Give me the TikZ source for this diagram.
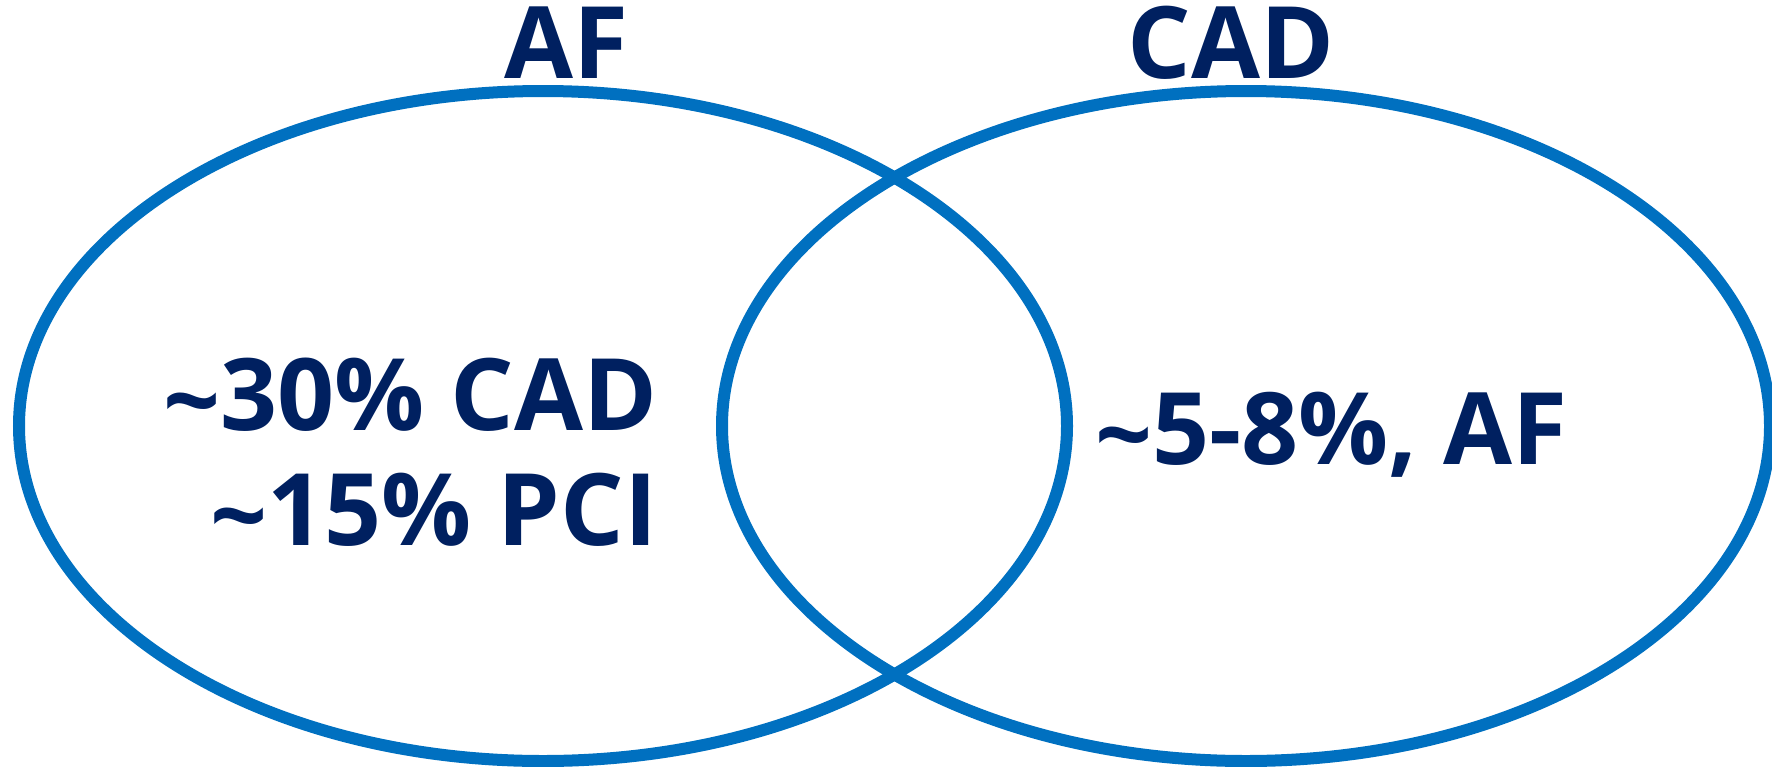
\documentclass[tikz,border=0pt]{standalone}
\usepackage{fontspec}
\setmainfont{Open Sans}
\definecolor{vennblue}{HTML}{0070C0}
\definecolor{textnavy}{HTML}{002060}
\newcommand{\lowtilde}{\raisebox{-3pt}{\textasciitilde}}
\tikzset{
  venn/.style={draw=vennblue, line width=6pt},
  lbl/.style={text=textnavy, font=\bfseries\fontsize{50}{57}\selectfont, inner sep=0pt}
}
\begin{document}
\begin{tikzpicture}[x=0.5pt,y=-0.5pt]
\useasboundingbox (0,0) rectangle (1772,766);
% sets
\draw[venn] (543,426) ellipse [x radius=262pt, y radius=167.5pt];
\draw[venn] (1246,426) ellipse [x radius=262pt, y radius=167.5pt];
% set titles
\node[lbl, anchor=base] (af) at (566,78) {AF};
\node[lbl, anchor=base] (cad) at (1231,78) {CAD};
% region texts
\node[lbl, anchor=base east] (l1) at (658,430) {\lowtilde30\% CAD};
\node[lbl, anchor=base east] (l2) at (658,545) {\lowtilde15\% PCI};
\node[lbl, anchor=base west] (r1) at (1095,464) {\lowtilde5-8\%, AF};
\end{tikzpicture}
\end{document}
